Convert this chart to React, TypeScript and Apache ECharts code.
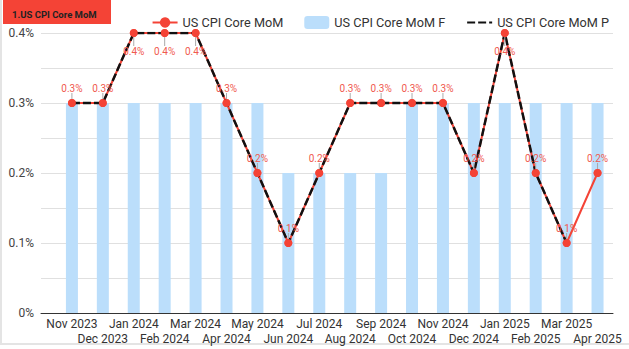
import React, { useEffect, useRef } from "react";
import * as echarts from "echarts";

const months = [
  "Nov 2023", "Dec 2023", "Jan 2024", "Feb 2024", "Mar 2024", "Apr 2024",
  "May 2024", "Jun 2024", "Jul 2024", "Aug 2024", "Sep 2024", "Oct 2024",
  "Nov 2024", "Dec 2024", "Jan 2025", "Feb 2025", "Mar 2025", "Apr 2025",
];
const momActual = [0.3, 0.3, 0.4, 0.4, 0.4, 0.3, 0.2, 0.1, 0.2, 0.3, 0.3, 0.3, 0.3, 0.2, 0.4, 0.2, 0.1, 0.2];
const momForecast = [0.3, 0.3, 0.3, 0.3, 0.3, 0.3, 0.3, 0.2, 0.2, 0.2, 0.2, 0.3, 0.3, 0.3, 0.3, 0.3, 0.3, 0.3];
const momPrior: (number | null)[] = [0.3, 0.3, 0.4, 0.4, 0.4, 0.3, 0.2, 0.1, 0.2, 0.3, 0.3, 0.3, 0.3, 0.2, 0.4, 0.2, 0.1, null];

const FONT = "Roboto, 'Noto Sans', sans-serif";
const RED = "#f44336";

export default function App() {
  const ref = useRef<HTMLDivElement>(null);
  useEffect(() => {
    if (!ref.current) return;
    const chart = echarts.init(ref.current, null, { renderer: "svg" });
    const pairs = (arr: (number | null)[]) => arr.map((v, i) => [i, v]);
    chart.setOption({
      animation: false,
      textStyle: { fontFamily: FONT },
      grid: { left: 41, right: 16, top: 33, bottom: 36, containLabel: false },
      graphic: [
        {
          type: "rect",
          left: 3,
          top: 0,
          shape: { width: 108, height: 24 },
          style: { fill: RED },
          z: 10,
        },
        {
          type: "text",
          left: 12,
          top: 9,
          style: { text: "1.US CPI Core MoM", fill: "#222", font: `bold 9.5px ${FONT}` },
          z: 11,
        },
      ],
      legend: {
        data: [
          "US CPI Core MoM",
          "US CPI Core MoM F",
          { name: "US CPI Core MoM P", itemStyle: { color: "transparent", opacity: 0 } },
        ],
        right: 15,
        top: 11,
        itemWidth: 25,
        itemHeight: 13,
        itemGap: 21,
        textStyle: { fontSize: 12.7, color: "#333", fontFamily: FONT },
      },
      xAxis: {
        type: "value",
        min: -1,
        max: 17.5,
        interval: 1,
        splitLine: { show: false },
        axisTick: { show: false },
        axisLine: { show: true, lineStyle: { color: "#333", width: 1 } },
        axisLabel: {
          color: "#333",
          fontSize: 12,
          lineHeight: 15,
          margin: 3,
          fontFamily: FONT,
          formatter: (v: number) => {
            const i = Math.round(v);
            if (Math.abs(v - i) > 1e-6 || i < 0 || i >= months.length) return "";
            return i % 2 ? "\n" + months[i] : months[i];
          },
        },
      },
      yAxis: {
        type: "value",
        min: 0,
        max: 0.4,
        interval: 0.05,
        axisLine: { show: false },
        axisTick: { show: false },
        splitLine: { lineStyle: { color: "#e0e0e0", width: 1 } },
        axisLabel: {
          color: "#444",
          fontSize: 12,
          margin: 7,
          fontFamily: FONT,
          formatter: (v: number) => {
            const k = Math.round(v * 100);
            return k % 10 === 0 ? `${k / 100}%` : "";
          },
        },
      },
      series: [
        {
          name: "US CPI Core MoM F",
          type: "bar",
          data: pairs(momForecast),
          barWidth: 12,
          itemStyle: { color: "#bbdefb" },
          z: 1,
        },
        {
          name: "US CPI Core MoM",
          type: "line",
          data: pairs(momActual),
          symbol: "circle",
          symbolSize: 8,
          itemStyle: { color: RED },
          lineStyle: { color: RED, width: 2 },
          z: 2,
        },
        {
          name: "US CPI Core MoM P",
          type: "line",
          data: pairs(momPrior),
          showSymbol: false,
          symbol: "none",
          itemStyle: { color: "#111" },
          lineStyle: { color: "#111", width: 2.5, type: [8, 3] },
          z: 3,
        },
        {
          name: "markers",
          type: "line",
          data: pairs(momActual),
          symbol: "circle",
          symbolSize: 8,
          itemStyle: { color: RED },
          lineStyle: { opacity: 0, width: 0 },
          z: 4,
          label: {
            show: true,
            color: "#f05a4f",
            fontSize: 10,
            fontFamily: FONT,
            formatter: (p: any) => `${p.value[1]}%`,
          },
          labelLine: { show: true, lineStyle: { color: "#aaa", width: 1 } },
          labelLayout: (p: any) => {
            const cx = p.rect.x + p.rect.width / 2;
            const cy = p.rect.y + p.rect.height / 2;
            const top = momActual[p.dataIndex] >= 0.4;
            return {
              x: cx,
              y: top ? cy + 18 : cy - 15,
              align: "center",
              verticalAlign: "middle",
            };
          },
        },
      ],
    });
    return () => chart.dispose();
  }, []);
  return (
    <div
      style={{
        position: "absolute",
        left: 0,
        top: 0,
        width: 629,
        height: 349,
        background: "#fff",
      }}
    >
      <div
        style={{
          position: "absolute",
          left: 0,
          top: 0,
          width: 640,
          height: 345,
          borderLeft: "2px solid #e4e4e4",
          borderBottom: "2px solid #e4e4e4",
          boxSizing: "border-box",
        }}
      />
      <div ref={ref} style={{ position: "absolute", left: 0, top: 0, width: 629, height: 349 }} />
    </div>
  );
}
